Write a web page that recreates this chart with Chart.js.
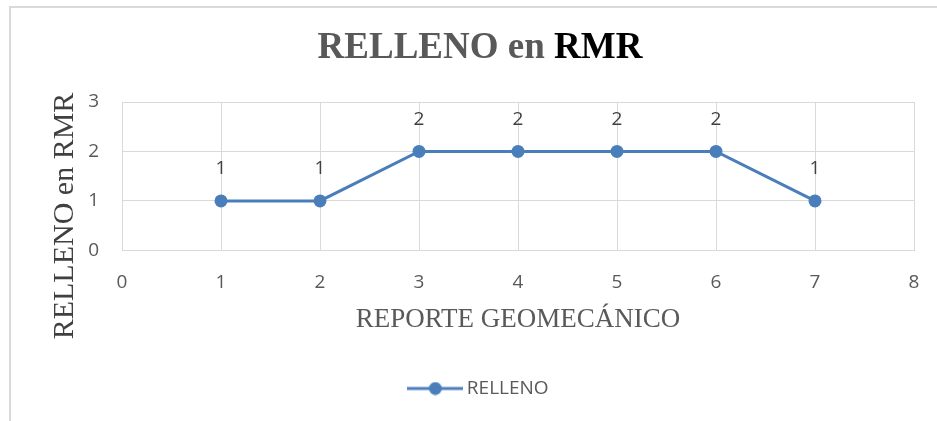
<!DOCTYPE html>
<html>
<head>
<meta charset="utf-8">
<script src="https://cdn.jsdelivr.net/npm/chart.js@4.4.1/dist/chart.umd.min.js"></script>
<style>
  html, body { margin: 0; padding: 0; background: #ffffff; overflow: hidden; }
  #wrap { width: 937px; height: 421px; position: relative; }
</style>
</head>
<body>
<div id="wrap"><canvas id="rmrChart"></canvas></div>
<script>
// RELLENO en RMR, one value per reporte geomecánico
const reportes = [1, 2, 3, 4, 5, 6, 7];
const relleno = [1, 1, 2, 2, 2, 2, 1];

// axis ranges as shown on the picture
const xRange = [0, 8];
const yRange = [0, 3];

const titleParts = ['RELLENO en ', 'RMR'];
const yTitle = 'RELLENO en RMR';
const xTitle = 'REPORTE GEOMECÁNICO';
const seriesName = 'RELLENO';

const blue = '#4a7ebb';
const gridColor = '#d9d9d9';
const tickFont = { family: '"Open Sans", sans-serif', size: 19 };

// Excel-like legend marker: a line with a dot in the middle
const marker = document.createElement('canvas');
marker.width = 56;
marker.height = 14;
const mctx = marker.getContext('2d');
mctx.strokeStyle = blue;
mctx.lineWidth = 3;
mctx.beginPath(); mctx.moveTo(0, 7); mctx.lineTo(56, 7); mctx.stroke();
mctx.fillStyle = blue;
mctx.beginPath(); mctx.arc(28, 7, 6.5, 0, Math.PI * 2); mctx.fill();

// frame, title, rotated y title and value labels
const decorations = {
  id: 'decorations',
  afterLayout(chart) {
    // legend sits a little right of the canvas centre in the original
    chart.legend.left += 24;
    chart.legend.right += 24;
  },
  beforeDraw(chart) {
    const c = chart.ctx;
    c.save();
    c.strokeStyle = '#d9d9d9';
    c.lineWidth = 2;
    c.strokeRect(10, 7, 1000, 1000);
    c.restore();
  },
  afterDatasetsDraw(chart) {
    const c = chart.ctx;
    const meta = chart.getDatasetMeta(0);
    c.save();
    c.font = '19px "Open Sans", sans-serif';
    c.fillStyle = '#404040';
    c.textAlign = 'center';
    c.textBaseline = 'middle';
    meta.data.forEach((pt, i) => {
      c.fillText(String(relleno[i]), pt.x, pt.y - 32);
    });
    c.restore();
  },
  afterDraw(chart) {
    const c = chart.ctx;
    c.save();
    // chart title, two colours
    c.font = 'bold 37px "Liberation Serif", serif';
    c.textBaseline = 'alphabetic';
    c.textAlign = 'left';
    const w0 = c.measureText(titleParts[0]).width;
    const w1 = c.measureText(titleParts[1]).width;
    const x = 480 - (w0 + w1) / 2;
    c.fillStyle = '#595959';
    c.fillText(titleParts[0], x, 58);
    c.fillStyle = '#000000';
    c.fillText(titleParts[1], x + w0, 58);

    // y axis title
    c.translate(73, 216);
    c.rotate(-Math.PI / 2);
    c.font = '30px "Liberation Serif", serif';
    c.fillStyle = '#404040';
    c.textAlign = 'center';
    c.fillText(yTitle, 0, 0);
    c.restore();
  }
};

const ctx = document.getElementById('rmrChart').getContext('2d');

new Chart(ctx, {
  type: 'scatter',
  data: {
    datasets: [{
      label: seriesName,
      data: reportes.map((r, i) => ({ x: r, y: relleno[i] })),
      showLine: true,
      borderColor: blue,
      backgroundColor: blue,
      borderWidth: 3,
      pointRadius: 6.5,
      pointHoverRadius: 6.5,
      pointBorderWidth: 0,
      tension: 0
    }]
  },
  options: {
    responsive: true,
    maintainAspectRatio: false,
    animation: false,
    layout: { padding: { top: 102, left: 0, right: 23, bottom: 13 } },
    plugins: {
      title: { display: false },
      tooltip: { enabled: false },
      legend: {
        position: 'bottom',
        labels: {
          color: '#595959',
          font: { family: '"Open Sans", sans-serif', size: 19 },
          usePointStyle: true,
          pointStyleWidth: 44,
          boxHeight: 14,
          padding: 10,
          generateLabels: () => [{
            text: seriesName,
            pointStyle: marker,
            fillStyle: blue,
            strokeStyle: blue,
            lineWidth: 0,
            fontColor: '#595959',
            datasetIndex: 0
          }]
        }
      }
    },
    scales: {
      x: {
        type: 'linear',
        min: xRange[0],
        max: xRange[1],
        afterFit: s => {
          s.height = 118.6;
          // keep the plot edge where the original has it
          s.paddingLeft = 0;
          s.paddingRight = 0;
        },
        grid: { color: gridColor, drawTicks: false },
        border: { color: gridColor, width: 1 },
        ticks: { stepSize: 1, color: '#595959', font: tickFont, padding: 21, maxRotation: 0 },
        title: {
          display: true,
          text: xTitle,
          color: '#595959',
          font: { family: '"Liberation Serif", serif', size: 27 },
          padding: { top: 0, bottom: 33 }
        }
      },
      y: {
        min: yRange[0],
        max: yRange[1],
        afterFit: s => { s.width = 122; },
        grid: { color: gridColor, drawTicks: false },
        border: { display: false },
        ticks: { stepSize: 1, color: '#595959', font: tickFont, padding: 23 }
      }
    }
  },
  plugins: [decorations]
});
</script>
</body>
</html>
